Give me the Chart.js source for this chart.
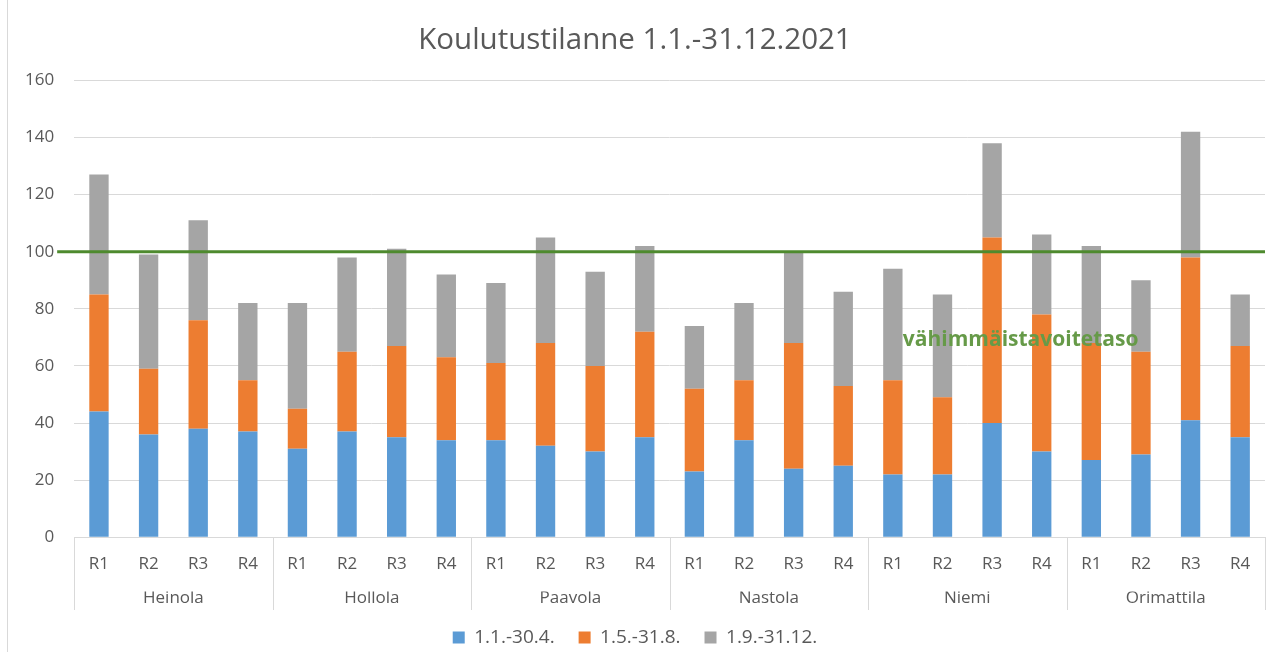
<!DOCTYPE html>
<html>
<head>
<meta charset="utf-8">
<script src="https://cdn.jsdelivr.net/npm/chart.js@4/dist/chart.umd.min.js"></script>
<style>
  html, body { margin: 0; padding: 0; background: #ffffff; }
  #wrap { position: relative; width: 1285px; height: 657px; }
  #edge { position: absolute; left: 7px; top: 0; width: 1px; height: 652px; background: #d9d9d9; }
  canvas { position: absolute; left: 0; top: 0; }
</style>
</head>
<body>
<div id="wrap">
  <canvas id="c" width="1285" height="657"></canvas>
  <div id="edge"></div>
</div>
<script>
const chartTitle = 'Koulutustilanne 1.1.-31.12.2021';
const groups = ['Heinola', 'Hollola', 'Paavola', 'Nastola', 'Niemi', 'Orimattila'];
const rounds = ['R1', 'R2', 'R3', 'R4'];
const seriesNames = ['1.1.-30.4.', '1.5.-31.8.', '1.9.-31.12.'];
const period1 = [44, 36, 38, 37, 31, 37, 35, 34, 34, 32, 30, 35, 23, 34, 24, 25, 22, 22, 40, 30, 27, 29, 41, 35];
const period2 = [41, 23, 38, 18, 14, 28, 32, 29, 27, 36, 30, 37, 29, 21, 44, 28, 33, 27, 65, 48, 41, 36, 57, 32];
const period3 = [42, 40, 35, 27, 37, 33, 34, 29, 28, 37, 33, 30, 22, 27, 32, 33, 39, 36, 33, 28, 34, 25, 44, 18];
const targetValue = 100;
const targetLabel = 'vähimmäistavoitetaso';
const yTicks = [0, 20, 40, 60, 80, 100, 120, 140, 160];

const labels = [];
groups.forEach(() => rounds.forEach(r => labels.push(r)));

const colors = ['#5b9bd5', '#ed7d31', '#a5a5a5'];
const seriesData = [period1, period2, period3];
const FONT = "'Open Sans', 'DejaVu Sans', sans-serif";
const TXT = '#595959';

const separatorPlugin = {
  id: 'separators',
  afterDraw(chart) {
    const xs = chart.scales.x, xg = chart.scales.xg;
    const ctx = chart.ctx;
    const n = rounds.length;
    ctx.save();
    ctx.strokeStyle = '#d9d9d9';
    ctx.lineWidth = 1;
    for (let g = 0; g <= groups.length; g++) {
      let px;
      if (g === 0) px = xs.left;
      else if (g === groups.length) px = xs.right;
      else px = (xs.getPixelForValue(g * n - 1) + xs.getPixelForValue(g * n)) / 2;
      px = Math.round(px) + 0.5;
      ctx.beginPath();
      ctx.moveTo(px, xs.top);
      ctx.lineTo(px, xg.bottom + 6);
      ctx.stroke();
    }
    ctx.restore();
  }
};

const targetPlugin = {
  id: 'target',
  afterDatasetsDraw(chart) {
    const xs = chart.scales.x, ys = chart.scales.y;
    const ctx = chart.ctx;
    const py = ys.getPixelForValue(targetValue);
    ctx.save();
    ctx.strokeStyle = '#4e8a2e';
    ctx.lineWidth = 3;
    ctx.beginPath();
    ctx.moveTo(xs.left - 17, py);
    ctx.lineTo(xs.right, py);
    ctx.stroke();
    ctx.fillStyle = '#669a48';
    ctx.font = "bold 21px " + FONT;
    ctx.textBaseline = 'alphabetic';
    ctx.textAlign = 'left';
    const tx = xs.getPixelForValue(16) + 10;
    const ty = ys.getPixelForValue(67);
    ctx.fillText(targetLabel, tx, ty);
    ctx.restore();
  }
};

new Chart(document.getElementById('c'), {
  type: 'bar',
  data: {
    labels: labels,
    datasets: seriesData.map((d, i) => ({
      label: seriesNames[i],
      data: d,
      backgroundColor: colors[i],
      borderWidth: 0,
      barPercentage: 0.39,
      categoryPercentage: 1.0,
      stack: 's'
    }))
  },
  options: {
    responsive: false,
    animation: false,
    devicePixelRatio: 1,
    layout: { padding: { left: 5, right: 20, top: 0, bottom: 0 } },
    plugins: {
      title: {
        display: true,
        text: chartTitle,
        color: TXT,
        font: { family: FONT, size: 29.5, weight: 'normal' },
        padding: { top: 23, bottom: 22 }
      },
      legend: {
        position: 'bottom',
        labels: {
          color: TXT,
          font: { family: FONT, size: 19 },
          boxWidth: 12,
          boxHeight: 12,
          padding: 24
        }
      },
      tooltip: { enabled: false }
    },
    scales: {
      x: {
        stacked: true,
        grid: { display: false, drawTicks: false },
        border: { display: true, color: '#d9d9d9' },
        ticks: { color: TXT, font: { family: FONT, size: 17 }, padding: 17, maxRotation: 0, autoSkip: false }
      },
      xg: {
        type: 'category',
        labels: groups,
        position: 'bottom',
        grid: { display: false, drawTicks: false },
        border: { display: false },
        ticks: { color: TXT, font: { family: FONT, size: 17 }, padding: -4, maxRotation: 0 }
      },
      y: {
        stacked: true,
        min: 0,
        max: 160,
        afterBuildTicks: (s) => { s.ticks = yTicks.map(v => ({ value: v })); },
        grid: { color: '#d9d9d9', drawTicks: false },
        border: { display: false },
        ticks: { color: TXT, font: { family: FONT, size: 17 }, padding: 20 }
      }
    }
  },
  plugins: [separatorPlugin, targetPlugin]
});
</script>
</body>
</html>
